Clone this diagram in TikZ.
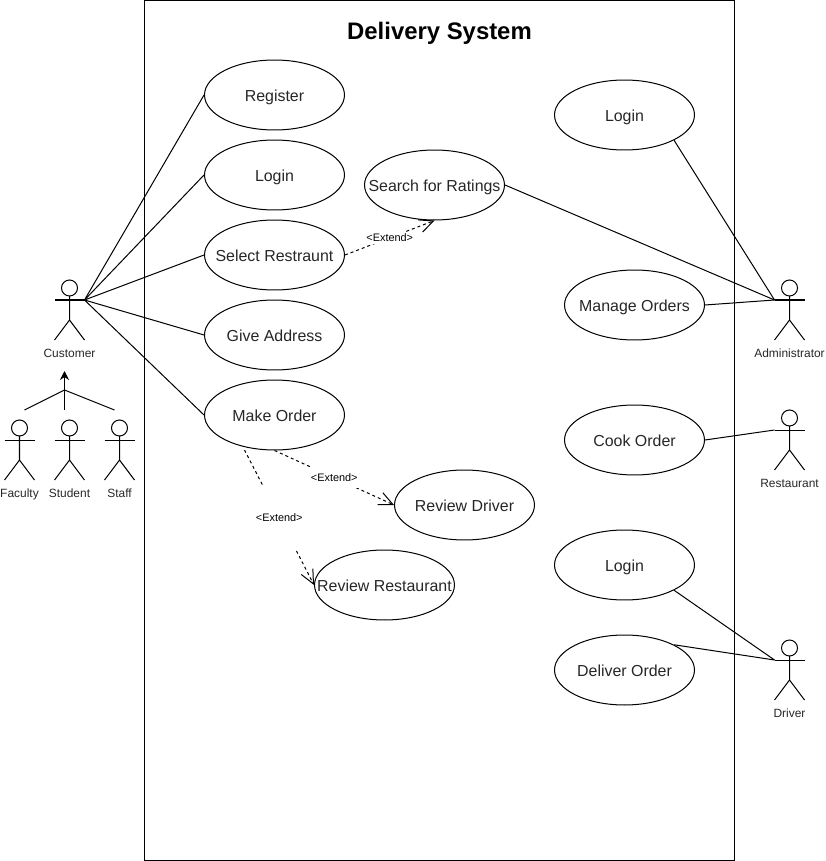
\documentclass[tikz,border=0pt]{standalone}
\usepackage{fontspec}
\setmainfont{Liberation Sans}
\usetikzlibrary{arrows.meta,shapes.geometric}

\begin{document}
\begin{tikzpicture}[
  x=0.02cm, y=-0.02cm, line width=0.57pt,
  usecase/.style={ellipse, draw, minimum width=2.8cm, minimum height=1.4cm, inner xsep=-0.4cm, inner ysep=0pt, align=center, text height=7.9pt, text depth=0.7pt, font=\fontsize{9.07}{11}\selectfont, text=black!85},
  actorlabel/.style={font=\fontsize{6.8}{8}\selectfont, align=center, text height=6pt, text depth=0.4pt, text=black!85},
  extendlabel/.style={font=\fontsize{6.2}{7}\selectfont, align=center, fill=white, inner sep=1pt},
  extend/.style={dash pattern=on 1.7pt off 1.7pt, -{Straight Barb[length=0.28cm, width=0.26cm]}}
]
\useasboundingbox (0,0) rectangle (825,861);

\node[draw, minimum width=11.8cm, minimum height=17.2cm, inner sep=0pt] (system) at (439.5,430.5) {};
\node[font=\fontsize{13.6}{16}\selectfont\bfseries] (title) at (439.5,33) {Delivery System};

\node[usecase] (register) at (274.5,95) {Register};
\node[usecase] (loginC) at (274.5,175) {Login};
\node[usecase] (select) at (274.5,255) {Select Restraunt};
\node[usecase] (address) at (274.5,335) {Give Address};
\node[usecase] (order) at (274.5,415) {Make Order};
\node[usecase] (ratings) at (434.5,185) {Search for Ratings};
\node[usecase] (revDriver) at (464.5,505) {Review Driver};
\node[usecase] (revRest) at (384.5,585) {Review Restaurant};
\node[usecase] (loginA) at (624.5,115) {Login};
\node[usecase] (manage) at (634.5,305) {Manage Orders};
\node[usecase] (cook) at (634.5,440) {Cook Order};
\node[usecase] (loginD) at (624.5,565) {Login};
\node[usecase] (deliver) at (624.5,670) {Deliver Order};

\foreach \nm/\cx/\ty/\ly/\txt in {customer/69.5/280/353/Customer, faculty/19.5/420/493/Faculty, student/69.5/420/493/Student, staff/119.5/420/493/Staff, admin/789.5/280/353/Administrator, restaurant/789.5/410/483/Restaurant, driver/789.5/640/713/Driver} {
  \draw (\cx,\ty+8) circle[radius=0.16cm];
  \draw (\cx,\ty+16) -- (\cx,\ty+40) (\cx-15,\ty+60) -- (\cx,\ty+40) -- (\cx+15,\ty+60);
  \coordinate (\nm-l) at (\cx-15,\ty+20);
  \coordinate (\nm-r) at (\cx+15,\ty+20);
  \draw (\nm-l) -- (\nm-r);
  \node[actorlabel] (\nm-label) at (\cx,\ly) {\txt};
}

\coordinate (genTop) at (64.5,371);
\coordinate (genMid) at (64.5,390);
\coordinate (genBot) at (64.5,410);
\coordinate (genL) at (24.5,410);
\coordinate (genR) at (114.5,410);
\draw[-{Stealth[length=0.18cm, width=0.18cm]}] (genBot) -- (genTop);
\draw (genL) -- (genMid) -- (genR);

\draw (customer-r) -- (register.west);
\draw (customer-r) -- (loginC.west);
\draw (customer-r) -- (select.west);
\draw (customer-r) -- (address.west);
\draw (customer-r) -- (order.west);

\draw (ratings.east) -- (admin-l);
\draw (loginA.-27) -- (admin-l);
\draw (manage.east) -- (admin-l);
\draw (cook.east) -- (restaurant-l);
\draw (loginD.-27) -- (driver-l);
\draw (deliver.27) -- (driver-l);

\coordinate (orderB) at (244.5,450);
\draw[extend] (select.east) -- node[extendlabel] (ext1) {<Extend>} (ratings.south);
\draw[extend] (order.south) -- node[extendlabel, minimum height=0.42cm, minimum width=0.96cm] (ext2) {<Extend>} (revDriver.west);
\draw[extend] (orderB) -- node[extendlabel, minimum height=1.32cm, minimum width=1cm] (ext3) {<Extend>} (revRest.west);
\end{tikzpicture}
\end{document}
